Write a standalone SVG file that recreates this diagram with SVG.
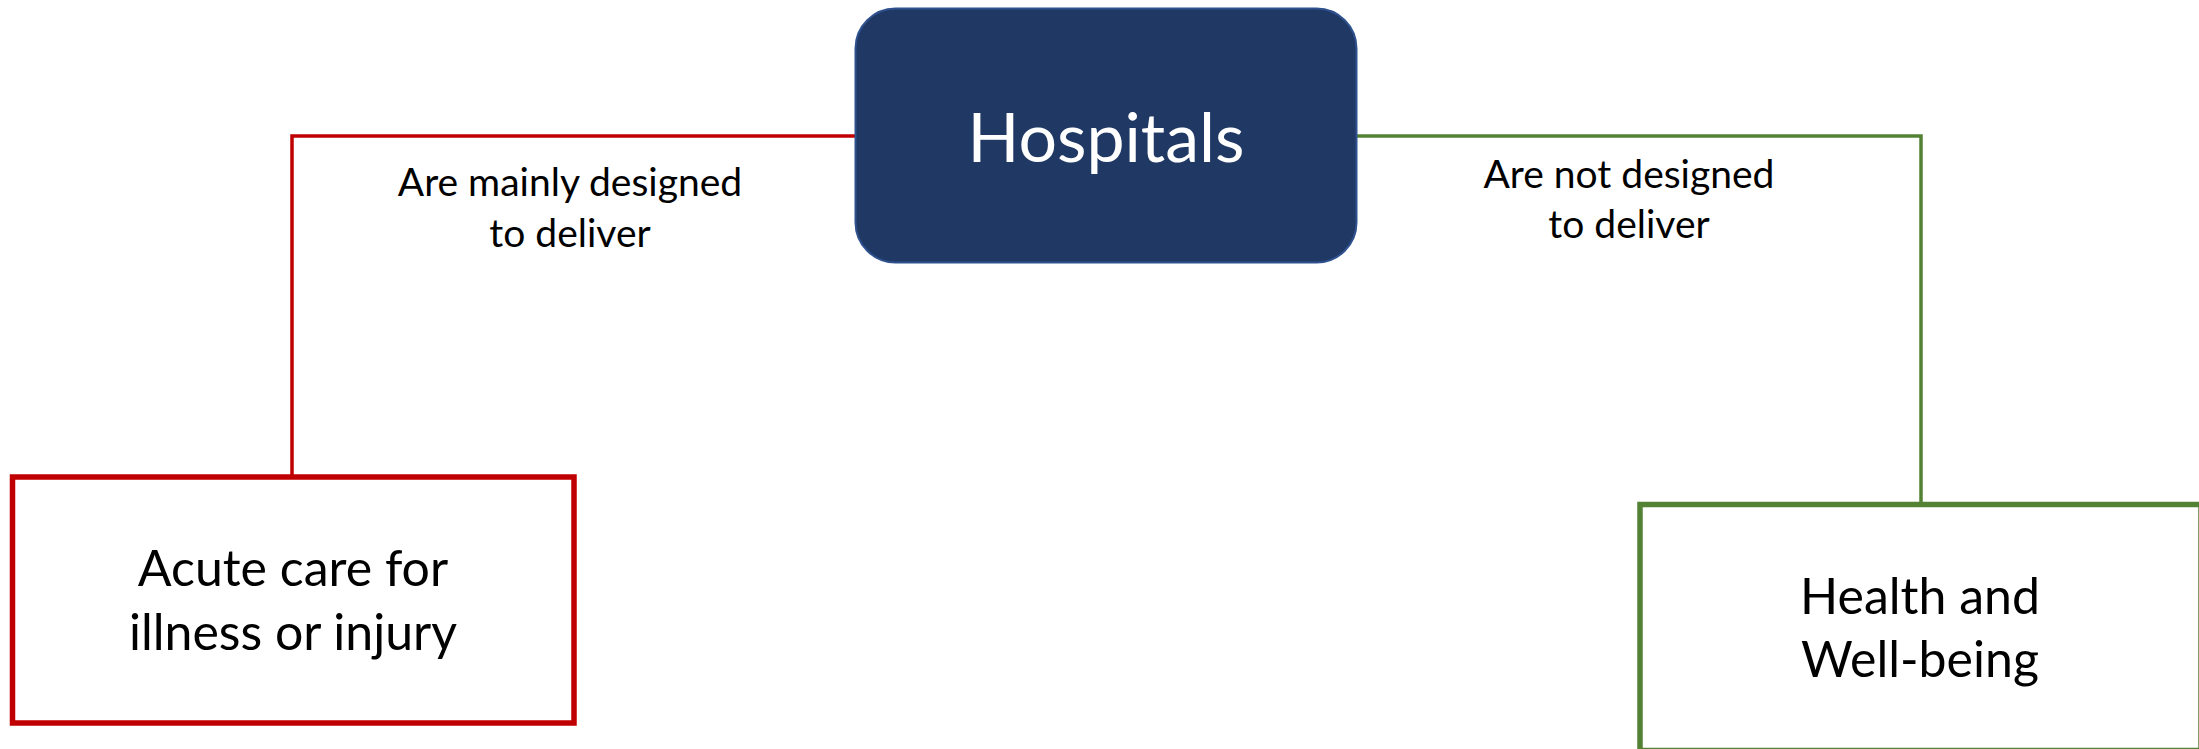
<svg xmlns="http://www.w3.org/2000/svg" width="2199" height="749" viewBox="0 0 2199 749">
<style>
.t{font-family:Lato,"Noto Sans","Liberation Sans",sans-serif;fill:#000;text-anchor:middle}
.lbl{font-size:39px}
.big{font-size:50px}
.hosp{font-size:68px;fill:#fff}
.conn{fill:none;stroke-width:3.5}
</style>
<rect width="2199" height="749" fill="#fff"/>
<g id="connectors">
<path class="conn" d="M855,136 H292 V477" stroke="#C00000"/>
<path class="conn" d="M1357,136 H1921 V504" stroke="#548235"/>
<text class="t lbl" x="570" y="196">Are mainly designed</text>
<text class="t lbl" x="570" y="247">to deliver</text>
<text class="t lbl" x="1629" y="188">Are not designed</text>
<text class="t lbl" x="1629" y="238">to deliver</text>
</g>
<g id="hospitals">
<rect x="855.5" y="8.5" width="501" height="254" rx="40" ry="40" fill="#203864" stroke="#2F528F" stroke-width="2"/>
<text class="t hosp" x="1106" y="162">Hospitals</text>
</g>
<g id="acute">
<rect x="12.5" y="477" width="561.5" height="246" fill="#fff" stroke="#C00000" stroke-width="5.5"/>
<text class="t big" x="293" y="586">Acute care for</text>
<text class="t big" x="293" y="650">illness or injury</text>
</g>
<g id="health">
<rect x="1640" y="504.5" width="561" height="246" fill="#fff" stroke="#548235" stroke-width="5.5"/>
<text class="t big" x="1920" y="614">Health and</text>
<text class="t big" x="1920" y="677">Well-being</text>
</g>
</svg>
